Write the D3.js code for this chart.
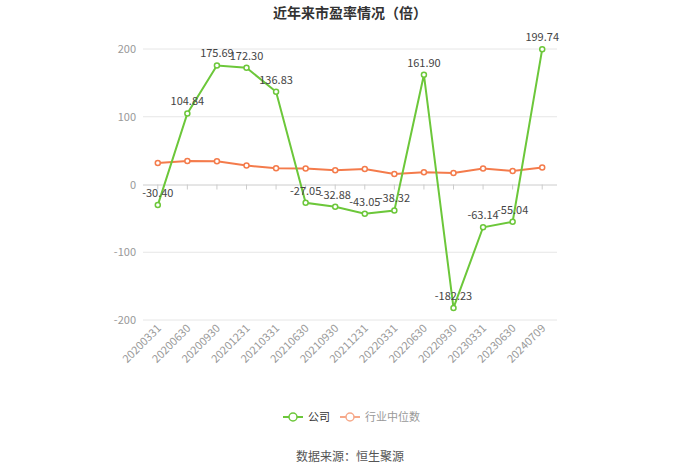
<!DOCTYPE html>
<html><head><meta charset="utf-8">
<script src="https://cdn.jsdelivr.net/npm/d3@7"></script>
<style>body{margin:0;background:#fff;}svg{display:block;font-family:"Microsoft YaHei","Noto Sans CJK SC","Noto Sans",sans-serif;}</style>
</head><body>
<svg id="c" width="700" height="474"></svg>
<script>
const categories = ["20200331","20200630","20200930","20201231","20210331","20210630","20210930","20211231","20220331","20220630","20220930","20230331","20230630","20240709"];
const companyPE = [-30.40,104.84,175.69,172.30,136.83,-27.05,-32.88,-43.05,-38.32,161.90,-182.23,-63.14,-55.04,199.74];
const medianPE = [31.9,34.8,34.2,28.0,24.0,23.6,21.0,23.0,15.6,18.0,17.0,23.6,20.0,25.0];
const yTicks = [-200,-100,0,100,200];
const seriesNames = ["公司","行业中位数"];
const colors = ["#6cc73a","#f47b4b"];

const svg = d3.select("#c");
const x = d3.scaleBand().domain(categories).range([143,557]);
const y = d3.scaleLinear().domain([-200,200]).range([320,49]);
const cx = d => x(d) + x.bandwidth()/2;

svg.append("text").attr("x",350).attr("y",18).attr("text-anchor","middle")
  .attr("font-size",14).attr("font-weight","bold").attr("fill","#333").text("近年来市盈率情况（倍）");

// grid
svg.append("g").selectAll("line").data(yTicks.filter(t=>t!==0)).join("line")
  .attr("x1",143).attr("x2",557).attr("y1",d=>y(d)).attr("y2",d=>y(d))
  .attr("stroke","#e6e6e6").attr("stroke-width",1);
svg.append("g").selectAll("text").data(yTicks).join("text")
  .attr("x",136).attr("y",d=>y(d)+4).attr("text-anchor","end")
  .attr("font-size",11).attr("fill","#999").text(d=>d);

// x axis at 0
const xg = svg.append("g").attr("transform",`translate(0,${y(0)})`)
  .call(d3.axisBottom(x).tickSize(5).tickFormat(""));
xg.select(".domain").attr("stroke","#ccc").attr("d",`M143,0.5H557`);
xg.selectAll(".tick line").attr("stroke","#ccc");

// x labels
svg.append("g").selectAll("text").data(categories).join("text")
  .attr("transform",d=>`translate(${cx(d)+4},${329}) rotate(-45)`)
  .attr("text-anchor","end").attr("font-size",11).attr("fill","#999").text(d=>d);

const line = d3.line().x((d,i)=>cx(categories[i])).y(d=>y(d));

// median
svg.append("path").datum(medianPE).attr("d",line).attr("fill","none").attr("stroke",colors[1]).attr("stroke-width",2);
svg.append("g").selectAll("circle").data(medianPE).join("circle")
  .attr("cx",(d,i)=>cx(categories[i])).attr("cy",d=>y(d)).attr("r",2.5)
  .attr("fill","#fff").attr("stroke",colors[1]).attr("stroke-width",1.5);

// company
svg.append("path").datum(companyPE).attr("d",line).attr("fill","none").attr("stroke",colors[0]).attr("stroke-width",2);
svg.append("g").selectAll("circle").data(companyPE).join("circle")
  .attr("cx",(d,i)=>cx(categories[i])).attr("cy",d=>y(d)).attr("r",2.5)
  .attr("fill","#fff").attr("stroke",colors[0]).attr("stroke-width",1.5);
svg.append("g").selectAll("text").data(companyPE).join("text")
  .attr("x",(d,i)=>cx(categories[i])).attr("y",d=>y(d)-8).attr("text-anchor","middle")
  .attr("font-size",11).attr("fill","#444").text(d=>d.toFixed(2));

// legend
const lg = svg.append("g");
const legendItems = [{x:283,name:seriesNames[0],c:colors[0]},{x:340,name:seriesNames[1],c:"#f6a98a"}];
legendItems.forEach(it=>{
  lg.append("line").attr("x1",it.x).attr("x2",it.x+20).attr("y1",417).attr("y2",417).attr("stroke",it.c).attr("stroke-width",2);
  lg.append("circle").attr("cx",it.x+10).attr("cy",417).attr("r",4).attr("fill","#fff").attr("stroke",it.c).attr("stroke-width",1.5);
  lg.append("text").attr("x",it.x+25).attr("y",421).attr("font-size",11).attr("fill",it.c===colors[0]?"#333":"#999").text(it.name);
});

svg.append("text").attr("x",350).attr("y",461).attr("text-anchor","middle")
  .attr("font-size",12).attr("fill","#555").text("数据来源：恒生聚源");
</script>
</body></html>
